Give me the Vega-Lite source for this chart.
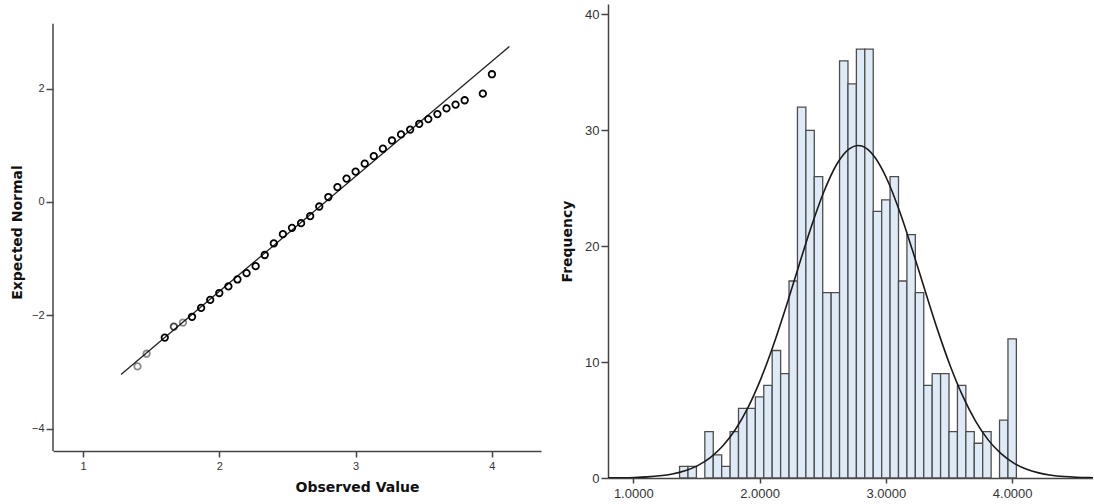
{
  "$schema": "https://vega.github.io/schema/vega-lite/v6.json",
  "background": "white",
  "padding": {"left": 10, "top": 4, "right": 0, "bottom": 0},
  "spacing": 19,
  "config": {
    "view": {"stroke": null},
    "axis": {
      "grid": false,
      "domainColor": "#444444",
      "domainWidth": 1.5,
      "tickColor": "#444444",
      "tickWidth": 1.5,
      "labelColor": "#333333",
      "labelFont": "Liberation Sans",
      "titleFont": "DejaVu Sans",
      "titleFontWeight": "bold",
      "titleColor": "#111111",
      "titleFontSize": 14
    }
  },
  "hconcat": [
    {
      "width": 488,
      "height": 447,
      "layer": [
        {
          "data": {"values": [{"obs": 1.279, "exp": -3.04}, {"obs": 4.128, "exp": 2.74}]},
          "mark": {"type": "line", "color": "#222222", "strokeWidth": 1.3},
          "encoding": {
            "x": {"field": "obs", "type": "quantitative", "scale": {"domain": [0.78, 4.36], "nice": false, "zero": false},
                  "axis": {"values": [1, 2, 3, 4], "format": "d", "title": "Observed Value", "labelFontSize": 11, "tickSize": 6, "labelPadding": 3, "titlePadding": 9, "titleX": 304}},
            "y": {"field": "exp", "type": "quantitative", "scale": {"domain": [-4.39, 3.49], "nice": false, "zero": false},
                  "axis": {"values": [-4, -2, 0, 2], "format": "d", "title": "Expected Normal", "domain": false, "labelFontSize": 11, "tickSize": 7, "labelPadding": 2, "titlePadding": 7, "titleY": 228}}
          }
        },
        {
          "data": {"values": [{"lo": -4.39, "hi": 3.14}]},
          "mark": {"type": "rule", "color": "#444444", "strokeWidth": 1.5},
          "encoding": {
            "x": {"datum": 0.78},
            "y": {"field": "lo", "type": "quantitative"},
            "y2": {"field": "hi"}
          }
        },
        {
          "data": {"values": [
            {"obs": 1.4000, "exp": -2.899, "n": 1},
            {"obs": 1.4667, "exp": -2.675, "n": 1},
            {"obs": 1.6000, "exp": -2.391, "n": 4},
            {"obs": 1.6667, "exp": -2.197, "n": 2},
            {"obs": 1.7333, "exp": -2.125, "n": 1},
            {"obs": 1.8000, "exp": -2.024, "n": 4},
            {"obs": 1.8667, "exp": -1.868, "n": 6},
            {"obs": 1.9333, "exp": -1.727, "n": 6},
            {"obs": 2.0000, "exp": -1.605, "n": 7},
            {"obs": 2.0667, "exp": -1.489, "n": 8},
            {"obs": 2.1333, "exp": -1.366, "n": 11},
            {"obs": 2.2000, "exp": -1.255, "n": 9},
            {"obs": 2.2667, "exp": -1.131, "n": 17},
            {"obs": 2.3333, "exp": -0.935, "n": 32},
            {"obs": 2.4000, "exp": -0.730, "n": 30},
            {"obs": 2.4667, "exp": -0.568, "n": 26},
            {"obs": 2.5333, "exp": -0.456, "n": 16},
            {"obs": 2.6000, "exp": -0.374, "n": 16},
            {"obs": 2.6667, "exp": -0.249, "n": 36},
            {"obs": 2.7333, "exp": -0.080, "n": 34},
            {"obs": 2.8000, "exp": 0.087, "n": 37},
            {"obs": 2.8667, "exp": 0.263, "n": 37},
            {"obs": 2.9333, "exp": 0.412, "n": 23},
            {"obs": 3.0000, "exp": 0.535, "n": 24},
            {"obs": 3.0667, "exp": 0.676, "n": 26},
            {"obs": 3.1333, "exp": 0.809, "n": 17},
            {"obs": 3.2000, "exp": 0.939, "n": 21},
            {"obs": 3.2667, "exp": 1.084, "n": 16},
            {"obs": 3.3333, "exp": 1.191, "n": 8},
            {"obs": 3.4000, "exp": 1.276, "n": 9},
            {"obs": 3.4667, "exp": 1.378, "n": 9},
            {"obs": 3.5333, "exp": 1.461, "n": 4},
            {"obs": 3.6000, "exp": 1.549, "n": 8},
            {"obs": 3.6667, "exp": 1.649, "n": 4},
            {"obs": 3.7333, "exp": 1.717, "n": 3},
            {"obs": 3.8000, "exp": 1.793, "n": 4},
            {"obs": 3.9333, "exp": 1.910, "n": 5},
            {"obs": 4.0000, "exp": 2.252, "n": 12}
          ]},
          "mark": {"type": "point", "shape": "circle", "filled": false, "color": "#000000", "strokeWidth": 1.8, "size": 42},
          "encoding": {
            "x": {"field": "obs", "type": "quantitative"},
            "y": {"field": "exp", "type": "quantitative"},
            "opacity": {"field": "n", "type": "quantitative", "scale": {"domain": [1, 3], "range": [0.45, 1], "clamp": true}, "legend": null}
          }
        }
      ]
    },
    {
      "width": 485,
      "height": 474,
      "layer": [
        {
          "data": {"values": [
            {"start": 1.3667, "end": 1.4333, "count": 1},
            {"start": 1.4333, "end": 1.5000, "count": 1},
            {"start": 1.5667, "end": 1.6333, "count": 4},
            {"start": 1.6333, "end": 1.7000, "count": 2},
            {"start": 1.7000, "end": 1.7667, "count": 1},
            {"start": 1.7667, "end": 1.8333, "count": 4},
            {"start": 1.8333, "end": 1.9000, "count": 6},
            {"start": 1.9000, "end": 1.9667, "count": 6},
            {"start": 1.9667, "end": 2.0333, "count": 7},
            {"start": 2.0333, "end": 2.1000, "count": 8},
            {"start": 2.1000, "end": 2.1667, "count": 11},
            {"start": 2.1667, "end": 2.2333, "count": 9},
            {"start": 2.2333, "end": 2.3000, "count": 17},
            {"start": 2.3000, "end": 2.3667, "count": 32},
            {"start": 2.3667, "end": 2.4333, "count": 30},
            {"start": 2.4333, "end": 2.5000, "count": 26},
            {"start": 2.5000, "end": 2.5667, "count": 16},
            {"start": 2.5667, "end": 2.6333, "count": 16},
            {"start": 2.6333, "end": 2.7000, "count": 36},
            {"start": 2.7000, "end": 2.7667, "count": 34},
            {"start": 2.7667, "end": 2.8333, "count": 37},
            {"start": 2.8333, "end": 2.9000, "count": 37},
            {"start": 2.9000, "end": 2.9667, "count": 23},
            {"start": 2.9667, "end": 3.0333, "count": 24},
            {"start": 3.0333, "end": 3.1000, "count": 26},
            {"start": 3.1000, "end": 3.1667, "count": 17},
            {"start": 3.1667, "end": 3.2333, "count": 21},
            {"start": 3.2333, "end": 3.3000, "count": 16},
            {"start": 3.3000, "end": 3.3667, "count": 8},
            {"start": 3.3667, "end": 3.4333, "count": 9},
            {"start": 3.4333, "end": 3.5000, "count": 9},
            {"start": 3.5000, "end": 3.5667, "count": 4},
            {"start": 3.5667, "end": 3.6333, "count": 8},
            {"start": 3.6333, "end": 3.7000, "count": 4},
            {"start": 3.7000, "end": 3.7667, "count": 3},
            {"start": 3.7667, "end": 3.8333, "count": 4},
            {"start": 3.9000, "end": 3.9667, "count": 5},
            {"start": 3.9667, "end": 4.0333, "count": 12}
          ]},
          "mark": {"type": "bar", "fill": "#dfeaf7", "stroke": "#4d4d4d", "strokeWidth": 1.3},
          "encoding": {
            "x": {"field": "start", "type": "quantitative", "scale": {"domain": [0.8, 4.64], "nice": false, "zero": false},
                  "axis": {"values": [1, 2, 3, 4], "format": ".4f", "title": null, "labelFontSize": 13, "tickSize": 5, "labelPadding": 4}},
            "x2": {"field": "end"},
            "y": {"field": "count", "type": "quantitative", "scale": {"domain": [0, 40.9], "nice": false},
                  "axis": {"values": [0, 10, 20, 30, 40], "title": "Frequency", "labelFontSize": 13, "tickSize": 7, "labelPadding": 2, "titlePadding": 10}},
            "y2": {"datum": 0}
          }
        },
        {
          "data": {"values": [
            {"x": 0.80, "y": 0.009}, {"x": 0.81, "y": 0.010}, {"x": 0.91, "y": 0.023}, {"x": 1.01, "y": 0.048},
            {"x": 1.11, "y": 0.097}, {"x": 1.21, "y": 0.188}, {"x": 1.31, "y": 0.349}, {"x": 1.41, "y": 0.623},
            {"x": 1.51, "y": 1.068}, {"x": 1.61, "y": 1.755}, {"x": 1.71, "y": 2.775}, {"x": 1.81, "y": 4.206},
            {"x": 1.91, "y": 6.12}, {"x": 2.01, "y": 8.556}, {"x": 2.11, "y": 11.48}, {"x": 2.21, "y": 14.78},
            {"x": 2.31, "y": 18.28}, {"x": 2.41, "y": 21.70}, {"x": 2.51, "y": 24.72}, {"x": 2.61, "y": 27.05},
            {"x": 2.71, "y": 28.40}, {"x": 2.78, "y": 28.69}, {"x": 2.81, "y": 28.64}, {"x": 2.91, "y": 27.72},
            {"x": 3.01, "y": 25.76}, {"x": 3.11, "y": 22.97}, {"x": 3.21, "y": 19.67}, {"x": 3.31, "y": 16.17},
            {"x": 3.41, "y": 12.76}, {"x": 3.51, "y": 9.67}, {"x": 3.61, "y": 7.04}, {"x": 3.71, "y": 4.91},
            {"x": 3.81, "y": 3.29}, {"x": 3.91, "y": 2.119}, {"x": 4.01, "y": 1.309}, {"x": 4.11, "y": 0.776},
            {"x": 4.21, "y": 0.442}, {"x": 4.31, "y": 0.242}, {"x": 4.41, "y": 0.127}, {"x": 4.51, "y": 0.064},
            {"x": 4.61, "y": 0.031}, {"x": 4.64, "y": 0.024}
          ]},
          "mark": {"type": "line", "color": "#1a1a1a", "strokeWidth": 1.6, "interpolate": "monotone", "clip": true},
          "encoding": {
            "x": {"field": "x", "type": "quantitative"},
            "y": {"field": "y", "type": "quantitative"}
          }
        }
      ]
    }
  ]
}
